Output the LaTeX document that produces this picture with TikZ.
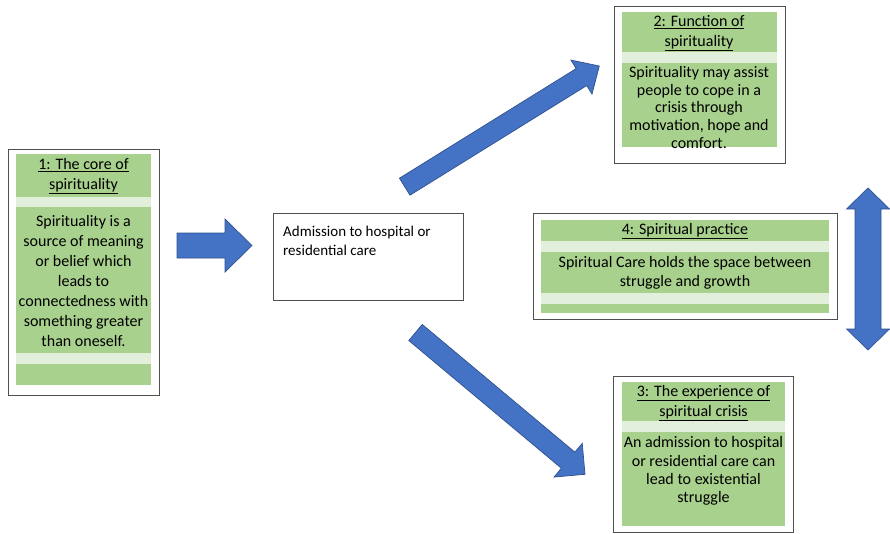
\documentclass[tikz,border=0pt]{standalone}
\usepackage{fontspec}
\setmainfont{Carlito}
\usetikzlibrary{calc}
\definecolor{bandgreen}{HTML}{A9D18E}
\definecolor{lightgreen}{HTML}{E2EFDA}
\definecolor{arrowblue}{HTML}{4472C4}
\definecolor{arrowedge}{HTML}{2F528F}
\definecolor{boxedge}{HTML}{505050}
\tikzset{
  outerbox/.style={draw=boxedge, line width=1.3pt, fill=white, inner sep=0pt},
  band/.style={fill=bandgreen},
  lightband/.style={fill=lightgreen},
  txt/.style={font=\fontsize{16}{20}\selectfont, align=center, inner sep=0pt, text=black},
  blockarrow/.style={fill=arrowblue, draw=arrowedge, line width=0.7pt, line join=miter},
}
% #1 name, #2 tail, #3 tip, #4 half shaft width, #5 half head width, #6 head length
\newcommand\blkarr[6]{%
  \coordinate (#1-hb) at ($(#3)!#6!(#2)$);
  \filldraw[blockarrow] ($(#2)!#4!90:(#3)$) -- ($(#1-hb)!#4!90:(#3)$) -- ($(#1-hb)!#5!90:(#3)$)
    -- (#3) -- ($(#1-hb)!#5!-90:(#3)$) -- ($(#1-hb)!#4!-90:(#3)$) -- ($(#2)!#4!-90:(#3)$) -- cycle;
}
\begin{document}
\begin{tikzpicture}[x=1pt,y=-1pt]
\useasboundingbox (0,0) rectangle (890,533);

% ---- Box 1: the core
\node[outerbox, anchor=north west, minimum width=151pt, minimum height=246.5pt] (core) at (8,148.5) {};
\fill[band] (16,154) rectangle (151,197);
\fill[lightband] (16,197) rectangle (151,207);
\fill[band] (16,207) rectangle (151,353);
\fill[lightband] (16,353) rectangle (151,364);
\fill[band] (16,364) rectangle (151,385);
\node[txt] (coretitle) at (83.5,176) {\underline{1: The core of}\\\underline{spirituality}};
\node[txt] (corebody) at (83.5,281) {Spirituality is a\\source of meaning\\or belief which\\leads to\\connectedness with\\something greater\\than oneself.};

% ---- Centre box
\node[outerbox, anchor=north west, minimum width=190.5pt, minimum height=87pt] (admit) at (272.5,213) {};
\node[txt, align=left, anchor=west, font=\fontsize{15}{19}\selectfont] (admittext) at (283,241) {Admission to hospital or\\residential care};

% ---- Box 2: function
\node[outerbox, anchor=north west, minimum width=171pt, minimum height=157pt] (func) at (614,6) {};
\fill[band] (622,12) rectangle (776.5,52);
\fill[lightband] (622,52) rectangle (776.5,63);
\fill[band] (622,63) rectangle (776.5,147);
\node[txt] (functitle) at (699,33) {\underline{2: Function of}\\\underline{spirituality}};
\node[txt, font=\fontsize{16}{17.6}\selectfont] (funcbody) at (699,107.5) {Spirituality may assist\\people to cope in a\\crisis through\\motivation, hope and\\comfort.};

% ---- Box 4: practice
\node[outerbox, anchor=north west, minimum width=304pt, minimum height=106pt] (prac) at (533,213) {};
\fill[band] (541,220) rectangle (829,241);
\fill[lightband] (541,241) rectangle (829,252);
\fill[band] (541,252) rectangle (829,293);
\fill[lightband] (541,293) rectangle (829,304);
\fill[band] (541,304) rectangle (829,313);
\node[txt] (practitle) at (685,231) {\underline{4: Spiritual practice}};
\node[txt, font=\fontsize{16}{19}\selectfont] (pracbody) at (685,272.5) {Spiritual Care holds the space between\\struggle and growth};

% ---- Box 3: crisis
\node[outerbox, anchor=north west, minimum width=180pt, minimum height=156pt] (crisis) at (613,376) {};
\fill[band] (622,382) rectangle (785,421);
\fill[lightband] (622,421) rectangle (785,432);
\fill[band] (622,432) rectangle (785,526);
\node[txt, font=\fontsize{16}{19.5}\selectfont] (crisistitle) at (703.5,403) {\underline{3: The experience of}\\\underline{spiritual crisis}};
\node[txt, font=\fontsize{16}{18.3}\selectfont] (crisisbody) at (703.5,471) {An admission to hospital\\or residential care can\\lead to existential\\struggle};

% ---- Block arrows
\coordinate (a1t) at (177,245.5);
\coordinate (a1p) at (252,245.5);
\blkarr{a1}{a1t}{a1p}{12.5pt}{26.5pt}{27pt}

\coordinate (a2t) at (404.7,186.7);
\coordinate (a2p) at (599.3,66);
\blkarr{a2}{a2t}{a2p}{10pt}{20pt}{21pt}

\coordinate (a3t) at (415.5,332.5);
\coordinate (a3p) at (585,474.3);
\blkarr{a3}{a3t}{a3p}{10.5pt}{22pt}{22pt}

\coordinate (dtop) at (868,188);
\coordinate (dbot) at (868,350);
\filldraw[blockarrow] (dtop) -- ($(dtop)+(21.5,21)$) -- ($(dtop)+(13,21)$) -- ($(dbot)+(13,-21)$)
  -- ($(dbot)+(21.5,-21)$) -- (dbot) -- ($(dbot)+(-21.5,-21)$) -- ($(dbot)+(-13,-21)$)
  -- ($(dtop)+(-13,21)$) -- ($(dtop)+(-21.5,21)$) -- cycle;
\end{tikzpicture}
\end{document}
